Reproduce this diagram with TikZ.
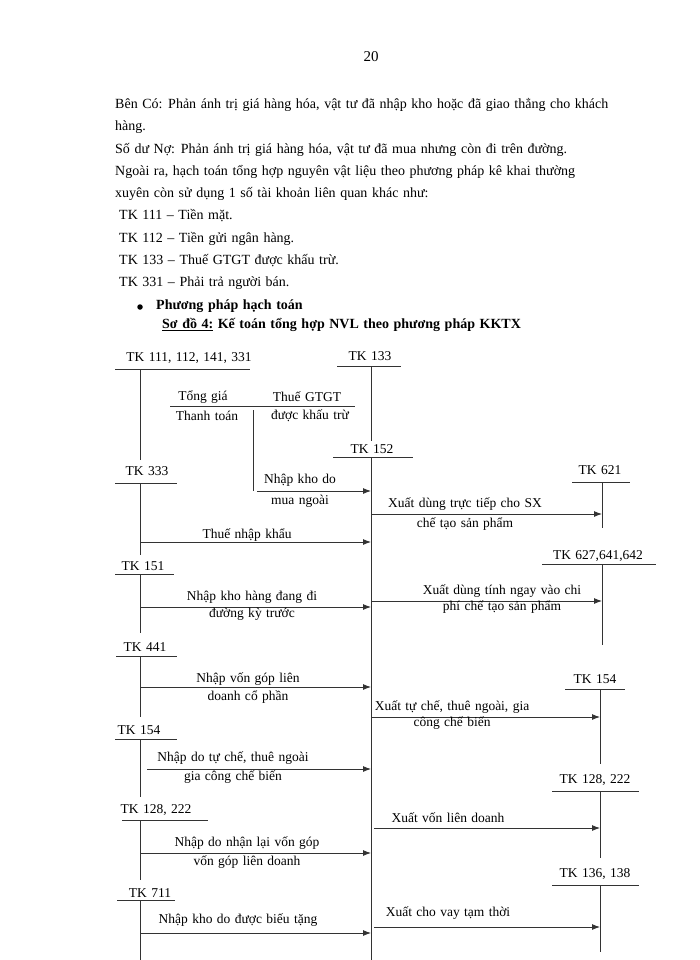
\documentclass[tikz,border=0pt]{standalone}
\usepackage{fontspec}
\setmainfont[WordSpace={1.3,1,1}]{Liberation Serif}
\usetikzlibrary{arrows.meta}
\begin{document}
\begin{tikzpicture}[x=1pt,y=-1pt,
  every node/.style={inner sep=0pt},
  txt/.style={font=\fontsize{14}{16}\selectfont, anchor=west},
  lab/.style={font=\fontsize{13.5}{15}\selectfont},
  ln/.style={line width=0.9pt, draw=black!80},
  arr/.style={ln, -{Latex[length=8pt,width=6pt]}}]
\useasboundingbox[fill=white] (0,0) rectangle (700,960);

% ---------- page text ----------
\node[font=\fontsize{15}{17}\selectfont] (pg) at (371,57) {20};
\node[txt] (t1) at (115,105) {Bên Có: Phản ánh trị giá hàng hóa, vật tư đã nhập kho hoặc đã giao thẳng cho khách};
\node[txt] (t2) at (115,127) {hàng.};
\node[txt] (t3) at (115,150) {Số dư Nợ: Phản ánh trị giá hàng hóa, vật tư đã mua nhưng còn đi trên đường.};
\node[txt] (t4) at (115,172) {Ngoài ra, hạch toán tổng hợp nguyên vật liệu theo phương pháp kê khai thường};
\node[txt] (t5) at (115,194) {xuyên còn sử dụng 1 số tài khoản liên quan khác như:};
\node[txt] (t6) at (119,216) {TK 111 – Tiền mặt.};
\node[txt] (t7) at (119,239) {TK 112 – Tiền gửi ngân hàng.};
\node[txt] (t8) at (119,261) {TK 133 – Thuế GTGT được khấu trừ.};
\node[txt] (t9) at (119,283) {TK 331 – Phải trả người bán.};
\node[circle, fill=black, minimum size=5.5pt] (bul) at (140,307) {};
\node[txt,font=\fontsize{14}{16}\selectfont\bfseries] (h1) at (156,306) {Phương pháp hạch toán};
\node[txt,font=\fontsize{14}{16}\selectfont\bfseries] (h2) at (162,325) {\underline{Sơ đồ 4:} Kế toán tổng hợp NVL theo phương pháp KKTX};

% ---------- account labels ----------
\node[lab] (a111) at (189,358) {TK 111, 112, 141, 331};
\node[lab] (a133) at (370,356) {TK 133};
\node[lab] (a152) at (372,449) {TK 152};
\node[lab] (a333) at (147,471) {TK 333};
\node[lab] (a151) at (143,566) {TK 151};
\node[lab] (a441) at (145,647) {TK 441};
\node[lab] (a154l) at (139,730) {TK 154};
\node[lab] (a128l) at (156,810) {TK 128, 222};
\node[lab] (a711) at (150,893) {TK 711};
\node[lab] (a621) at (600,470) {TK 621};
\node[lab] (a627) at (598,556) {TK 627,641,642};
\node[lab] (a154r) at (595,679) {TK 154};
\node[lab] (a128r) at (595,780) {TK 128, 222};
\node[lab] (a136) at (595,874) {TK 136, 138};

% ---------- underlines ----------
\draw[ln] (115,369) -- (250,369);
\draw[ln] (337,366) -- (401,366);
\draw[ln] (333,457) -- (413,457);
\draw[ln] (115,483) -- (177,483);
\draw[ln] (115,574) -- (174,574);
\draw[ln] (116,656) -- (177,656);
\draw[ln] (115,739) -- (177,739);
\draw[ln] (122,820) -- (208,820);
\draw[ln] (117,900) -- (175,900);
\draw[ln] (572,482) -- (630,482);
\draw[ln] (542,564) -- (656,564);
\draw[ln] (565,689) -- (625,689);
\draw[ln] (552,791) -- (639,791);
\draw[ln] (552,885) -- (639,885);

% ---------- verticals ----------
\draw[ln] (140,369) -- (140,460);
\draw[ln] (371,366) -- (371,441);
\draw[ln] (371,457) -- (371,960);
\draw[ln] (140,483) -- (140,555);
\draw[ln] (140,574) -- (140,633);
\draw[ln] (140,656) -- (140,717);
\draw[ln] (140,739) -- (140,797);
\draw[ln] (140,820) -- (140,880);
\draw[ln] (140,900) -- (140,960);
\draw[ln] (602,482) -- (602,528);
\draw[ln] (602,564) -- (602,645);
\draw[ln] (600,689) -- (600,764);
\draw[ln] (600,791) -- (600,858);
\draw[ln] (600,885) -- (600,952);

% ---------- price split box ----------
\node[lab] (tg) at (203,397) {Tổng giá};
\node[lab] (gt) at (307,397) {Thuế GTGT};
\node[lab] (tt) at (207,416) {Thanh toán};
\node[lab] (kt) at (310,416) {được khấu trừ};
\draw[ln] (170,406) -- (355,406);
\draw[ln] (253,410) -- (253,491);

% ---------- arrow end points ----------
\coordinate (s1) at (257,491);  \coordinate (e1) at (371,491);
\coordinate (s2) at (140,542);  \coordinate (e2) at (371,542);
\coordinate (s3) at (140,607);  \coordinate (e3) at (371,607);
\coordinate (s4) at (140,687);  \coordinate (e4) at (371,687);
\coordinate (s5) at (147,769);  \coordinate (e5) at (371,769);
\coordinate (s6) at (140,853);  \coordinate (e6) at (371,853);
\coordinate (s7) at (140,933);  \coordinate (e7) at (371,933);
\coordinate (r1) at (371,514);  \coordinate (f1) at (602,514);
\coordinate (r2) at (371,601);  \coordinate (f2) at (602,601);
\coordinate (r3) at (371,717);  \coordinate (f3) at (600,717);
\coordinate (r4) at (374,828);  \coordinate (f4) at (600,828);
\coordinate (r5) at (374,927);  \coordinate (f5) at (600,927);

% ---------- incoming arrows ----------
\draw[arr] (s1) -- (e1);
\node[lab] (l1a) at (300,480) {Nhập kho do};
\node[lab] (l1b) at (300,501) {mua ngoài};
\draw[arr] (s2) -- (e2);
\node[lab] (l2) at (247,535) {Thuế nhập khẩu};
\draw[arr] (s3) -- (e3);
\node[lab] (l3a) at (252,597) {Nhập kho hàng đang đi};
\node[lab] (l3b) at (252,614) {đường kỳ trước};
\draw[arr] (s4) -- (e4);
\node[lab] (l4a) at (248,679) {Nhập vốn góp liên};
\node[lab] (l4b) at (248,697) {doanh cổ phần};
\draw[arr] (s5) -- (e5);
\node[lab] (l5a) at (233,758) {Nhập do tự chế, thuê ngoài};
\node[lab] (l5b) at (233,777) {gia công chế biến};
\draw[arr] (s6) -- (e6);
\node[lab] (l6a) at (247,843) {Nhập do nhận lại vốn góp};
\node[lab] (l6b) at (247,862) {vốn góp liên doanh};
\draw[arr] (s7) -- (e7);
\node[lab] (l7) at (238,920) {Nhập kho do được biếu tặng};

% ---------- outgoing arrows ----------
\draw[arr] (r1) -- (f1);
\node[lab] (m1a) at (465,504) {Xuất dùng trực tiếp cho SX};
\node[lab] (m1b) at (465,524) {chế tạo sản phẩm};
\draw[arr] (r2) -- (f2);
\node[lab] (m2a) at (502,591) {Xuất dùng tính ngay vào chi};
\node[lab] (m2b) at (502,607) {phí chế tạo sản phẩm};
\draw[arr] (r3) -- (f3);
\node[lab] (m3a) at (452,707) {Xuất tự chế, thuê ngoài, gia};
\node[lab] (m3b) at (452,723) {công chế biến};
\draw[arr] (r4) -- (f4);
\node[lab] (m4) at (448,818) {Xuất vốn liên doanh};
\draw[arr] (r5) -- (f5);
\node[lab] (m5) at (448,913) {Xuất cho vay tạm thời};
\end{tikzpicture}
\end{document}
